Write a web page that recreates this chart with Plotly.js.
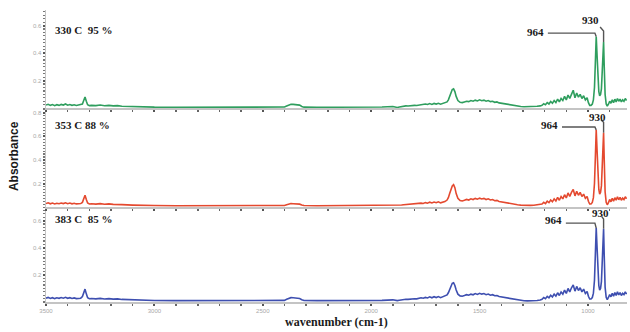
<!DOCTYPE html>
<html><head><meta charset="utf-8">
<script src="https://cdn.plot.ly/plotly-3.0.1.min.js"></script>
<style>html,body{margin:0;padding:0;background:#fff}#c{width:630px;height:332px}</style>
</head><body><div id="c"></div>
<script>
// wavenumber (cm-1), descending
const wavenumber = [
3500,3490,3480,3470,3460,3450,3440,3430,3420,3410,3400,3390,3380,3370,3360,3350,3340,
3332,3326,3320,3314,3308,3300,
3290,3270,3250,3230,3210,3190,3170,3150,3100,3050,3000,
2900,2800,2700,2600,2500,2420,
2400,2390,2380,2370,2360,2350,2340,2330,2320,2310,
2250,2150,2050,1950,1900,
1880,1870,1860,1850,1840,1830,1820,1810,1800,1790,1780,1770,1760,1750,1740,1730,1720,1710,1700,1690,1680,1670,1660,1650,
1644,1638,1632,1626,1620,1614,1608,1600,
1590,1580,1570,1560,1550,1540,1530,1520,1510,1500,1490,1480,1470,1460,1450,1440,1430,1420,1410,1400,
1385,1370,1355,1340,1325,1310,1295,1280,1265,1250,1235,1220,
1212,1204,1196,1188,1180,1172,1164,1156,1148,1140,1132,1124,1116,1108,1100,1092,1084,1076,1068,1060,1052,1044,1036,1028,1020,1012,1004,998,992,
986,980,975,970,966,962,958,954,950,946,942,938,934,931,928,925,921,916,911,905,
900,894,888,882,876,870,864,858,852,846,840,834,828,822];

// 330 C 95 % (green, top)
const abs330 = [
0.022,0.028,0.02,0.026,0.018,0.025,0.02,0.027,0.022,0.03,0.021,0.026,0.02,0.024,0.019,0.023,0.022,
0.03,0.055,0.08,0.05,0.025,0.018,
0.02,0.018,0.022,0.017,0.02,0.016,0.018,0.014,0.01,0.008,0.007,
0.006,0.006,0.006,0.006,0.006,0.007,
0.008,0.015,0.024,0.028,0.027,0.025,0.027,0.022,0.012,0.007,
0.006,0.006,0.007,0.008,0.012,
0.005,0.008,0.012,0.014,0.016,0.015,0.018,0.017,0.02,0.019,0.022,0.026,0.024,0.03,0.026,0.033,0.027,0.034,0.029,0.035,0.028,0.033,0.036,0.045,
0.06,0.085,0.115,0.135,0.14,0.12,0.085,0.055,
0.042,0.04,0.045,0.05,0.047,0.055,0.05,0.058,0.052,0.06,0.054,0.058,0.05,0.055,0.047,0.05,0.042,0.045,0.038,0.035,
0.03,0.026,0.022,0.018,0.015,0.012,0.01,0.01,0.01,0.011,0.013,0.016,
0.02,0.032,0.024,0.04,0.03,0.048,0.035,0.055,0.04,0.065,0.045,0.07,0.055,0.085,0.06,0.095,0.07,0.1,0.13,0.075,0.11,0.08,0.1,0.07,0.09,0.06,0.075,0.04,0.02,
0.02,0.03,0.06,0.15,0.33,0.52,0.38,0.18,0.12,0.09,0.1,0.14,0.3,0.44,0.48,0.3,0.1,0.03,0.015,0.03,
0.05,0.035,0.06,0.04,0.065,0.045,0.07,0.05,0.065,0.045,0.06,0.05,0.07,0.055];

// 353 C 88 % (red, middle)
const abs353 = [
0.03,0.036,0.028,0.034,0.027,0.033,0.029,0.035,0.03,0.037,0.029,0.034,0.028,0.032,0.027,0.031,0.03,
0.04,0.07,0.1,0.065,0.035,0.026,
0.028,0.025,0.029,0.024,0.027,0.023,0.025,0.021,0.017,0.014,0.013,
0.012,0.012,0.012,0.012,0.012,0.013,
0.014,0.02,0.027,0.03,0.029,0.027,0.029,0.025,0.018,0.013,
0.012,0.012,0.013,0.014,0.018,
0.012,0.015,0.018,0.02,0.022,0.021,0.025,0.023,0.027,0.026,0.03,0.034,0.031,0.038,0.033,0.042,0.035,0.043,0.037,0.045,0.036,0.042,0.047,0.06,
0.08,0.115,0.155,0.18,0.19,0.165,0.115,0.075,
0.055,0.052,0.058,0.065,0.06,0.07,0.064,0.074,0.067,0.076,0.069,0.074,0.064,0.07,0.06,0.064,0.054,0.057,0.048,0.044,
0.038,0.033,0.028,0.024,0.02,0.017,0.015,0.015,0.015,0.016,0.018,0.022,
0.026,0.04,0.03,0.05,0.038,0.06,0.045,0.07,0.052,0.082,0.058,0.09,0.07,0.105,0.078,0.12,0.09,0.125,0.15,0.095,0.135,0.1,0.125,0.09,0.11,0.075,0.09,0.05,0.026,
0.026,0.04,0.08,0.2,0.42,0.655,0.48,0.23,0.15,0.11,0.125,0.18,0.38,0.56,0.63,0.4,0.13,0.04,0.02,0.04,
0.065,0.045,0.075,0.05,0.08,0.058,0.088,0.062,0.082,0.058,0.076,0.064,0.088,0.07];

// 383 C 85 % (blue, bottom)
const abs383 = [
0.028,0.034,0.026,0.032,0.025,0.031,0.027,0.033,0.028,0.035,0.027,0.032,0.026,0.03,0.025,0.029,0.028,
0.04,0.065,0.095,0.06,0.032,0.024,
0.026,0.023,0.027,0.022,0.025,0.021,0.023,0.019,0.015,0.012,0.011,
0.01,0.01,0.01,0.01,0.01,0.011,
0.012,0.02,0.028,0.032,0.031,0.029,0.031,0.026,0.017,0.011,
0.01,0.01,0.011,0.012,0.016,
0.01,0.013,0.016,0.018,0.02,0.019,0.022,0.021,0.024,0.023,0.027,0.031,0.028,0.034,0.03,0.038,0.031,0.039,0.033,0.04,0.032,0.037,0.042,0.052,
0.068,0.092,0.12,0.138,0.142,0.122,0.088,0.058,
0.045,0.043,0.048,0.054,0.05,0.058,0.053,0.062,0.056,0.064,0.058,0.062,0.054,0.059,0.05,0.054,0.046,0.048,0.04,0.037,
0.032,0.027,0.022,0.018,0.014,0.011,0.009,0.008,0.008,0.009,0.011,0.015,
0.02,0.033,0.025,0.042,0.031,0.05,0.037,0.058,0.043,0.068,0.048,0.074,0.058,0.088,0.063,0.1,0.074,0.105,0.125,0.08,0.115,0.085,0.105,0.075,0.095,0.063,0.078,0.042,0.022,
0.022,0.033,0.065,0.16,0.35,0.545,0.4,0.19,0.12,0.088,0.1,0.15,0.33,0.5,0.54,0.34,0.11,0.035,0.018,0.035,
0.055,0.038,0.065,0.042,0.07,0.048,0.075,0.052,0.07,0.048,0.064,0.054,0.074,0.058];

const panelLabels = ["330 C  95 %", "353 C 88 %", "383 C  85 %"];
const peakLabels = ["964", "930"];
const xTickVals = [3500, 3000, 2500, 2000, 1500, 1000];

const series = [
  {y: abs330, color: "#2f9e5e", xa: "x3", ya: "y3"},
  {y: abs353, color: "#e4492f", xa: "x2", ya: "y2"},
  {y: abs383, color: "#3e4fb0", xa: "x",  ya: "y"}
];

const traces = series.map(s => ({
  type: "scatter", mode: "lines", x: wavenumber, y: s.y,
  xaxis: s.xa, yaxis: s.ya,
  line: {color: s.color, width: 1.6}, hoverinfo: "skip"
}));

const tickFont = {family: "Liberation Sans, Arial", size: 6, color: "#a8a8a8"};
function xax(show) {
  return {
    range: [3500, 820], autorange: false, showgrid: false, zeroline: false,
    showline: true, linecolor: "#c4c4c4", linewidth: 2,
    ticks: "outside", ticklen: 2, tickwidth: 2, tickcolor: "#555",
    tickvals: xTickVals, ticktext: xTickVals.map(String),
    showticklabels: show, tickfont: tickFont,
    minor: {dtick: 100, ticks: "outside", ticklen: 2, tickwidth: 1.5, tickcolor: "#666"}
  };
}
function yax(domain, top, vals, anchor) {
  return {
    domain: domain, range: [0, top], autorange: false, anchor: anchor,
    showgrid: false, zeroline: false, showline: true, linecolor: "#c4c4c4", linewidth: 1.5,
    ticks: "outside", ticklen: 2, tickwidth: 2, tickcolor: "#555",
    tickvals: vals, ticktext: vals.map(v => v.toFixed(1)), tickfont: tickFont,
    minor: {dtick: 0.025, ticks: "outside", ticklen: 2, tickwidth: 1.2, tickcolor: "#777"}
  };
}

function peakAt(arr, lo, hi) {
  let bi = -1;
  for (let i = 0; i < wavenumber.length; i++) {
    if (wavenumber[i] >= lo && wavenumber[i] <= hi && (bi < 0 || arr[i] > arr[bi])) bi = i;
  }
  return {x: wavenumber[bi], y: arr[bi]};
}

// label placement (data units of each panel)
const cfg = [
  {arr: abs330, xref: "x3", yref: "y3", lblY: 0.565,
   t964: {x: 1195, y: 0.553}, l964: 0.545, t930: {x: 990, y: 0.64}, k930: {x: 944, y: 0.59}, l930: 0.56},
  {arr: abs353, xref: "x2", yref: "y2", lblY: 0.70,
   t964: {x: 1130, y: 0.698}, l964: 0.68, t930: {x: 958, y: 0.766}, k930: {x: 940, y: 0.74}, l930: 0.72},
  {arr: abs383, xref: "x", yref: "y", lblY: 0.61,
   t964: {x: 1112, y: 0.604}, l964: 0.582, t930: {x: 944, y: 0.654}, k930: {x: 936, y: 0.63}, l930: 0.612}
];

const annFontB = {family: "Liberation Serif, Times New Roman", size: 11, color: "#1a1a1a"};
const annotations = [];
const shapes = [];
cfg.forEach((c, i) => {
  annotations.push({xref: c.xref, yref: c.yref, x: 3470, y: c.lblY, xanchor: "left", yanchor: "middle",
    text: "<b>" + panelLabels[i] + "</b>", showarrow: false, font: annFontB});
  const p1 = peakAt(c.arr, 950, 975), p2 = peakAt(c.arr, 920, 940);
  annotations.push({xref: c.xref, yref: c.yref, x: c.t964.x, y: c.t964.y, xanchor: "right", yanchor: "middle",
    text: "<b>" + peakLabels[0] + "</b>", showarrow: false, font: annFontB});
  annotations.push({xref: c.xref, yref: c.yref, x: c.t930.x, y: c.t930.y, xanchor: "center", yanchor: "middle",
    text: "<b>" + peakLabels[1] + "</b>", showarrow: false, font: annFontB});
  shapes.push({type: "path", xref: c.xref, yref: c.yref,
    path: `M ${c.t964.x - 10},${c.l964} L ${p1.x + 6},${c.l964} L ${p1.x},${p1.y}`,
    line: {color: "#555", width: 1.4}});
  shapes.push({type: "path", xref: c.xref, yref: c.yref,
    path: `M ${c.k930.x},${c.k930.y} L ${p2.x},${c.l930} L ${p2.x},${p2.y}`,
    line: {color: "#555", width: 1.4}});
});

annotations.push({xref: "paper", yref: "paper", x: -0.055, y: 0.5, xanchor: "center", yanchor: "middle",
  textangle: -90, showarrow: false, text: "<b>Absorbance</b>",
  font: {family: "Liberation Sans, Arial", size: 12, color: "#1a1a1a"}});

const layout = {
  width: 630, height: 332, paper_bgcolor: "#fff", plot_bgcolor: "#fff",
  margin: {l: 46, r: 3, t: 10, b: 30}, showlegend: false,
  xaxis: Object.assign(xax(true), {anchor: "y",
    title: {text: "<b>wavenumber (cm-1)</b>", standoff: 4,
      font: {family: "Liberation Serif, Times New Roman", size: 12, color: "#1a1a1a"}}}),
  xaxis2: Object.assign(xax(false), {anchor: "y2", matches: "x"}),
  xaxis3: Object.assign(xax(false), {anchor: "y3", matches: "x"}),
  yaxis: yax([0, 0.325], 0.7, [0.2, 0.4, 0.6], "x"),
  yaxis2: yax([0.325, 0.66], 0.83, [0.2, 0.4, 0.6, 0.8], "x2"),
  yaxis3: yax([0.664, 1], 0.713, [0.2, 0.4, 0.6], "x3"),
  annotations: annotations, shapes: shapes
};

Plotly.newPlot("c", traces, layout, {staticPlot: true, displayModeBar: false});
</script></body></html>
